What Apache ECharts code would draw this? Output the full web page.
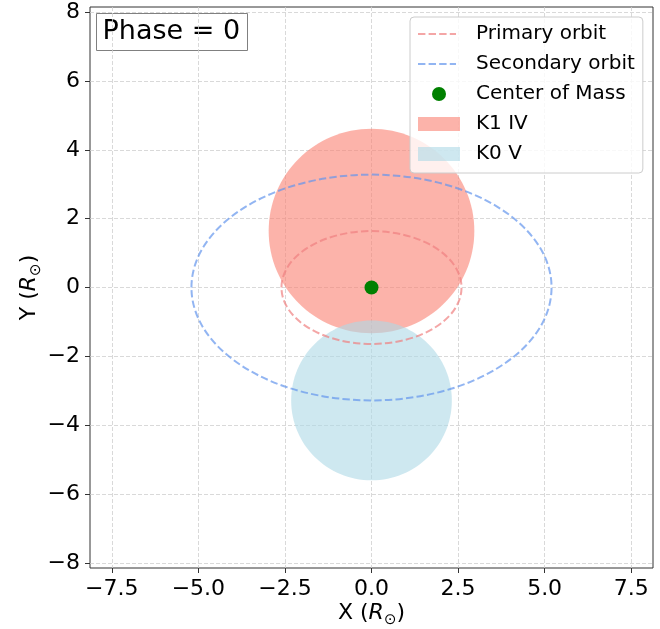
<!DOCTYPE html>
<html>
<head>
<meta charset="utf-8">
<title>Binary system, phase 0</title>
<script src="https://cdn.jsdelivr.net/npm/echarts@6/dist/echarts.min.js"></script>
<style>
	body { margin: 0; background: #fff; }
	#chart { width: 660px; height: 629px; }
</style>
</head>
<body>
<div id="chart"></div>
<script>
	// axis ranges and ticks (solar radii)
	var xRange = [-8.13, 8.13];
	var yRange = [-8.15, 8.15];
	var xTicks = [-7.5, -5, -2.5, 0, 2.5, 5, 7.5];
	var yTicks = [-8, -6, -4, -2, 0, 2, 4, 6, 8];

	// stars: centre and radius
	var starNames = ['K1 IV', 'K0 V'];
	var starX = [0, 0];
	var starY = [1.64, -3.28];
	var starR = [2.97, 2.32];

	// orbits: centre, semi axes
	var orbitNames = ['Primary orbit', 'Secondary orbit'];
	var orbitX = [0, 0];
	var orbitY = [0, 0];
	var orbitA = [2.6, 5.2];
	var orbitB = [1.64, 3.28];

	var comName = 'Center of Mass';
	var comPoint = [0, 0];
	var phase = 0;

	var starColors = ['rgba(250,128,114,0.6)', 'rgba(173,216,230,0.6)'];
	var orbitColors = ['rgba(240,128,128,0.7)', 'rgba(100,149,237,0.7)'];
	var FONT = 'DejaVu Sans';

	function minus(s) {
		return s.replace('-', '\u2212');
	}

	function starItem(params, api) {
		var c = api.coord([api.value(0), api.value(1)]);
		var s = api.size([api.value(2), api.value(2)]);
		return {
			type: 'ellipse',
			shape: { cx: c[0], cy: c[1], rx: s[0], ry: s[1] },
			style: { fill: api.visual('color') }
		};
	}

	function orbitItem(params, api) {
		var c = api.coord([api.value(0), api.value(1)]);
		var s = api.size([api.value(2), api.value(3)]);
		return {
			type: 'ellipse',
			shape: { cx: c[0], cy: c[1], rx: s[0], ry: s[1] },
			style: { fill: 'none', stroke: api.visual('color'), lineWidth: 2, lineDash: [7.4, 3.2] }
		};
	}

	// legend icons, all 53x14 so the text lines up
	var dashIcon = 'path://M0,0M53,14M0,6h7.4v2h-7.4zM10.6,6h7.4v2h-7.4zM21.2,6h7.4v2h-7.4zM31.8,6h6.2v2h-6.2z';
	var dotIcon = 'path://M0,0M53,14M14,7a7,7 0 1,0 14,0a7,7 0 1,0 -14,0z';
	var patchIcon = 'path://M0,0M53,14M0,0h42v14h-42z';

	var series = [];
	starNames.forEach(function (name, i) {
		series.push({
			name: name,
			type: 'custom',
			renderItem: starItem,
			itemStyle: { color: starColors[i] },
			encode: { x: 0, y: 1 },
			silent: true,
			data: [[starX[i], starY[i], starR[i]]]
		});
	});
	orbitNames.forEach(function (name, i) {
		series.push({
			name: name,
			type: 'custom',
			renderItem: orbitItem,
			itemStyle: { color: orbitColors[i] },
			encode: { x: 0, y: 1 },
			silent: true,
			data: [[orbitX[i], orbitY[i], orbitA[i], orbitB[i]]]
		});
	});
	series.push({
		name: comName,
		type: 'scatter',
		symbol: 'circle',
		symbolSize: 14,
		itemStyle: { color: '#008000', opacity: 1 },
		silent: true,
		z: 5,
		data: [comPoint]
	});

	var nameRich = {
		n: { fontFamily: FONT, fontSize: 22, color: '#000', lineHeight: 30 },
		i: { fontFamily: FONT, fontSize: 22, fontStyle: 'italic', color: '#000', lineHeight: 30 },
		s: { fontFamily: FONT, fontSize: 15, color: '#000', lineHeight: 16, verticalAlign: 'bottom' }
	};

	var gridLine = { show: true, lineStyle: { color: '#cfcfcf', width: 0.8, type: [4, 2] } };

	var option = {
		animation: false,
		backgroundColor: '#fff',
		grid: {
			left: 90, right: 7, top: 7, bottom: 61,
			outerBoundsMode: 'none',
			show: true, borderColor: '#333', borderWidth: 1, backgroundColor: 'transparent'
		},
		xAxis: {
			type: 'value',
			min: xRange[0],
			max: xRange[1],
			name: '{n|X (}{i|R}{s|\u2299}{n|)}',
			nameLocation: 'middle',
			nameGap: 30,
			nameMoveOverlap: false,
			nameTextStyle: { rich: nameRich },
			axisLine: { show: false, onZero: false },
			axisTick: { show: true, inside: false, length: 5, customValues: xTicks, lineStyle: { color: '#333' } },
			splitLine: Object.assign({ customValues: xTicks }, gridLine),
			axisLabel: {
				customValues: xTicks,
				margin: 10,
				fontFamily: FONT,
				fontSize: 22,
				color: '#000',
				formatter: function (v) { return minus(v.toFixed(1)); }
			}
		},
		yAxis: {
			type: 'value',
			min: yRange[0],
			max: yRange[1],
			name: '{n|Y (}{i|R}{s|\u2299}{n|)}',
			nameLocation: 'middle',
			nameGap: 46,
			nameMoveOverlap: false,
			nameRotate: 90,
			nameTextStyle: { rich: nameRich },
			axisLine: { show: false, onZero: false },
			axisTick: { show: true, inside: false, length: 5, customValues: yTicks, lineStyle: { color: '#333' } },
			splitLine: Object.assign({ customValues: yTicks }, gridLine),
			axisLabel: {
				customValues: yTicks,
				margin: 10,
				fontFamily: FONT,
				fontSize: 22,
				color: '#000',
				formatter: function (v) { return minus(String(v)); }
			}
		},
		legend: {
			orient: 'vertical',
			left: 410,
			top: 17,
			padding: [7, 8, 9, 8],
			itemGap: 10,
			itemWidth: 53,
			itemHeight: 14,
			backgroundColor: 'rgba(255,255,255,0.8)',
			borderColor: '#cccccc',
			borderWidth: 1,
			borderRadius: 4,
			selectedMode: false,
			textStyle: { fontFamily: FONT, fontSize: 20, color: '#000' },
			data: [
				{ name: orbitNames[0], icon: dashIcon },
				{ name: orbitNames[1], icon: dashIcon },
				{ name: comName, icon: dotIcon },
				{ name: starNames[0], icon: patchIcon },
				{ name: starNames[1], icon: patchIcon }
			]
		},
		graphic: [{
			type: 'group',
			left: 96,
			top: 13,
			z: 100,
			children: [{
				type: 'rect',
				shape: { x: 0, y: 0, width: 151, height: 37 },
				style: { fill: '#fff', stroke: '#808080', lineWidth: 1 }
			}, {
				type: 'text',
				x: 6,
				y: 18.5,
				style: { text: 'Phase = ' + phase, font: '27px "DejaVu Sans"', fill: '#000', verticalAlign: 'middle' }
			}]
		}],
		series: series
	};

	var chart = echarts.init(document.getElementById('chart'));
	chart.setOption(option);
</script>
</body>
</html>
